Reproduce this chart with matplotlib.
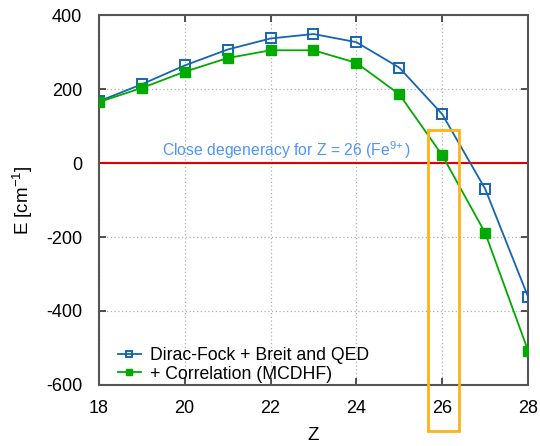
import matplotlib
matplotlib.use('Agg')
import matplotlib.pyplot as plt
from matplotlib.patches import Rectangle

plt.rcParams['font.family'] = 'Liberation Sans'
plt.rcParams['mathtext.fontset'] = 'custom'
plt.rcParams['mathtext.rm'] = 'Liberation Sans'
plt.rcParams['mathtext.it'] = 'Liberation Sans'
plt.rcParams['axes.unicode_minus'] = False

Z = [18, 19, 20, 21, 22, 23, 24, 25, 26, 27, 28]
dirac_fock = [167, 213, 264, 307, 337, 349, 327, 258, 132, -70, -362]
mcdhf = [165, 203, 247, 284, 305, 305, 271, 186, 21, -189, -508]

label_df = 'Dirac-Fock + Breit and QED'
label_corr = '+ Correlation (MCDHF)'
note = r'Close degeneracy for Z = 26 (Fe$^{9\!+}$)'

fig = plt.figure(figsize=(5.4, 4.46), dpi=100)
ax = fig.add_axes([0.183, 0.137, 0.795, 0.829])

ax.axhline(0, color='#e00000', lw=1.5, zorder=2)

ax.plot(Z, dirac_fock, color='#1565b0', lw=1.3, marker='s', ms=7.5,
        mfc='none', mec='#1565b0', mew=1.4, label=label_df, zorder=3)
ax.plot(Z, mcdhf, color='#00aa00', lw=1.3, marker='s', ms=7.5,
        mfc='#00aa00', mec='#00aa00', label=label_corr, zorder=3)

ax.text(22.36, 35, note, color='#4d94ff', fontsize=11.3, ha='center', va='center')

# highlight box around Z = 26, runs below the axis
box = Rectangle((25.67, -724), 0.72, 813, fill=False, ec='#ffb21a', lw=2,
                clip_on=False, zorder=4)
ax.add_patch(box)

ax.set_xlim(18, 28)
ax.set_ylim(-600, 400)
ax.set_xticks(range(18, 29, 2))
ax.set_yticks(range(-600, 401, 200))
ax.grid(True, color='#b0b0b0', ls=(0, (1, 2)), lw=0.9)
ax.tick_params(direction='in', top=True, right=True, length=5, width=1.2,
               labelsize=13, colors='#333333', labelcolor='black')
ax.tick_params(axis='x', pad=11)
ax.tick_params(axis='y', pad=12)
for s in ax.spines.values():
    s.set_color('#555555')
    s.set_linewidth(1.5)

ax.set_xlabel('Z', fontsize=13.5, labelpad=7)
ax.set_ylabel('E [cm$^{-1}$]', fontsize=13.5, labelpad=8)

ax.legend(loc='lower left', bbox_to_anchor=(0.028, -0.013), frameon=False,
          fontsize=12.7, handlelength=1.3, handletextpad=0.5, labelspacing=0.1,
          markerscale=0.65, borderaxespad=0.0)

fig.savefig('out.png', dpi=100)
